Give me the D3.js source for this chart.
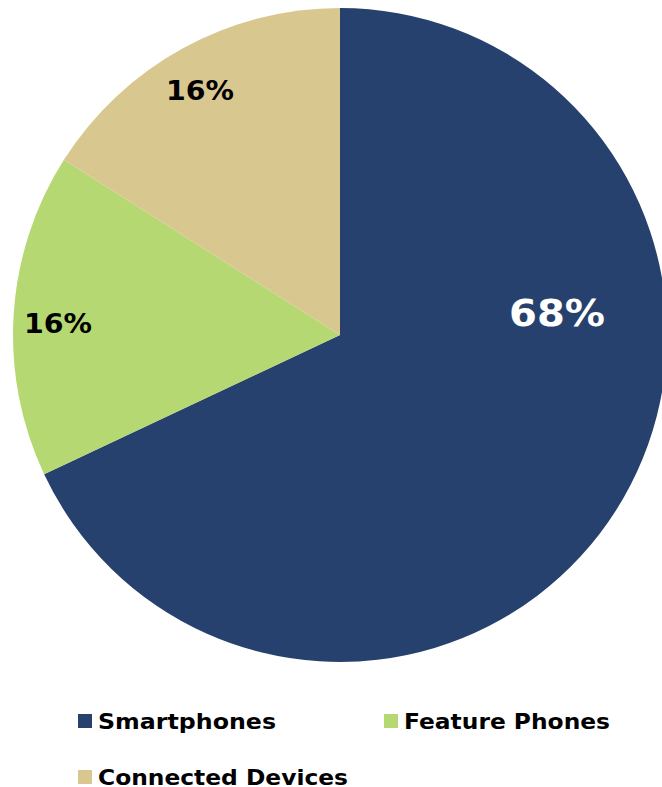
<!DOCTYPE html>
<html><head><meta charset="utf-8">
<script src="https://cdn.jsdelivr.net/npm/d3@7"></script>
<style>html,body{margin:0;padding:0;background:#fff;overflow:hidden}</style>
</head><body>
<svg id="c" width="662" height="787"></svg>
<script>
const categories = ["Smartphones", "Feature Phones", "Connected Devices"];
const values = [68, 16, 16];
const labels = ["68%", "16%", "16%"];
const colors = ["#27416E", "#B5D872", "#D8C890"];

const svg = d3.select("#c");
const cx = 340, cy = 335, r = 327;
const pie = d3.pie().sort(null).value(d => d.v);
const data = pie(categories.map((c, i) => ({c, v: values[i], l: labels[i]})));
const arc = d3.arc().innerRadius(0).outerRadius(r);
const g = svg.append("g").attr("transform", `translate(${cx},${cy})`);
g.selectAll("path").data(data).join("path")
  .attr("d", arc).attr("fill", (d, i) => colors[i]);

const font = "Verdana, 'DejaVu Sans', sans-serif";
// label layout: left x, baseline y, font size, width, colour
const labelPos = [
  {x: 509, y: 326, size: 38, w: 96, fill: "#fff"},
  {x: 24, y: 333, size: 26, w: 68, fill: "#000"},
  {x: 166, y: 100, size: 26, w: 68, fill: "#000"}
];
svg.selectAll("text.lbl").data(data).join("text").attr("class", "lbl")
  .attr("x", (d, i) => labelPos[i].x).attr("y", (d, i) => labelPos[i].y)
  .attr("font-family", font).attr("font-weight", "bold")
  .attr("font-size", (d, i) => labelPos[i].size)
  .attr("textLength", (d, i) => labelPos[i].w).attr("lengthAdjust", "spacingAndGlyphs")
  .attr("fill", (d, i) => labelPos[i].fill)
  .text(d => d.data.l);

const legendPos = [{x: 78, y: 714, w: 178}, {x: 384, y: 714, w: 206}, {x: 78, y: 770, w: 250}];
const lg = svg.selectAll("g.lg").data(categories).join("g").attr("class", "lg")
  .attr("transform", (d, i) => `translate(${legendPos[i].x},${legendPos[i].y})`);
lg.append("rect").attr("width", 14).attr("height", 14).attr("fill", (d, i) => colors[i]);
lg.append("text").attr("x", 20).attr("y", 15)
  .attr("font-family", font).attr("font-weight", "bold")
  .attr("font-size", 22)
  .attr("textLength", (d, i) => legendPos[i].w).attr("lengthAdjust", "spacingAndGlyphs")
  .attr("fill", "#000").text(d => d);
</script>
</body></html>
